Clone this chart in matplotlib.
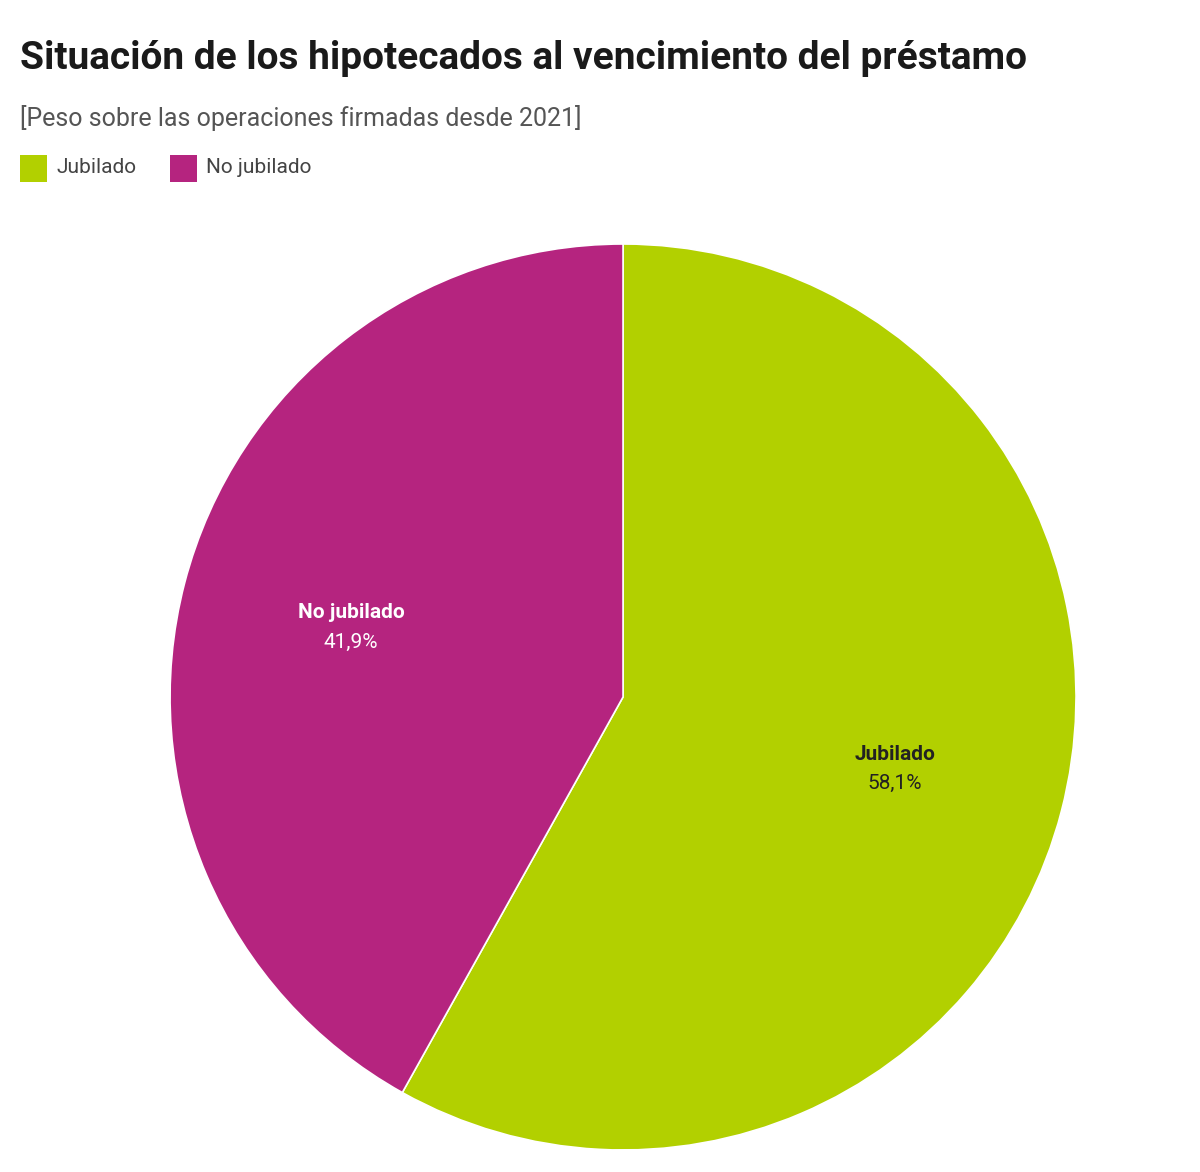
import matplotlib
matplotlib.use("Agg")
import matplotlib.pyplot as plt
from matplotlib.patches import Rectangle

labels = ["Jubilado", "No jubilado"]
values = [58.1, 41.9]
colors = ["#b2d000", "#b5247f"]
text_colors = ["#222222", "white"]

plt.rcParams['font.family'] = ['Roboto', 'DejaVu Sans']
fig = plt.figure(figsize=(12, 11.72), dpi=100)
fig.text(0.017, 0.950, "Situación de los hipotecados al vencimiento del préstamo",
         fontsize=28, fontweight="bold", color="#1a1a1a", va="center")
fig.text(0.017, 0.899, "[Peso sobre las operaciones firmadas desde 2021]",
         fontsize=18, color="#555555", va="center")
# legend
lx = [0.017, 0.142]
for x, lab, c in zip(lx, labels, colors):
    fig.patches.append(Rectangle((x, 0.845), 0.022, 0.0225, transform=fig.transFigure,
                                 facecolor=c, edgecolor="none"))
    fig.text(x + 0.030, 0.857, lab, fontsize=15, color="#444444", va="center")

ax = fig.add_axes([0.1417, 0.0188, 0.755, 0.773])
wedges, _ = ax.pie(values, colors=colors, startangle=90, counterclock=False,
                   radius=1, wedgeprops=dict(edgecolor="white", linewidth=1.2))
import numpy as np
ang = 90
for v, lab, tc in zip(values, labels, text_colors):
    mid = np.deg2rad(ang - v * 3.6 / 2)
    ang -= v * 3.6
    x, y = 0.62 * np.cos(mid), 0.62 * np.sin(mid)
    ax.text(x, y + 0.03, lab, ha="center", va="center", fontsize=15,
            fontweight="bold", color=tc)
    ax.text(x, y - 0.035, f"{v:.1f}%".replace(".", ","), ha="center", va="center",
            fontsize=15, color=tc)
ax.set_xlim(-1, 1); ax.set_ylim(-1, 1); ax.set_aspect("equal")
ax.axis("off")
fig.savefig("out.png", dpi=100, facecolor="white")
